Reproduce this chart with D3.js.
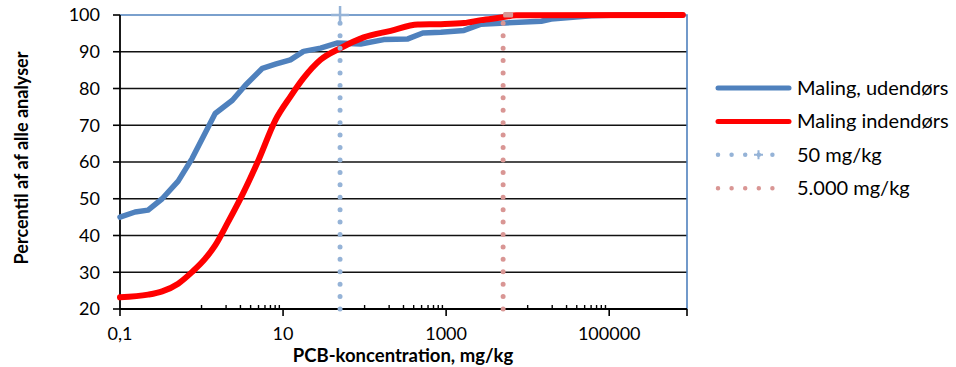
<!DOCTYPE html>
<html lang="da">
<head>
  <meta charset="UTF-8">
  <title>PCB</title>
  <script src="https://d3js.org/d3.v7.min.js" charset="utf-8"></script>
  <style>
    body { margin: 0; background: #fff; }
    text { font-family: Lato, "Open Sans", sans-serif; fill: #000; }
  </style>
</head>
<body>
</body>
<script>
  // Maling, udendørs
  var udeX = [0.1, 0.153, 0.221, 0.329, 0.517, 0.768, 1.47, 2.39, 3.45, 5.58, 8.06, 12.3, 17.8, 28.8, 46.7, 89.5, 172, 339, 518, 863, 1655, 2680, 14660, 19450, 60400, 141000, 800000]
  var udeY = [45, 46.4, 46.9, 50, 54.8, 61, 73.2, 76.8, 80.9, 85.5, 86.6, 87.8, 90.1, 91, 92.4, 92.1, 93.3, 93.5, 95.1, 95.3, 95.8, 97.5, 98.3, 98.9, 99.8, 100, 100]
  // Maling indendørs
  var indeX = [0.1, 0.221, 0.329, 0.517, 0.768, 1.11, 1.47, 2.12, 3.15, 4.99, 8.06, 12.3, 17.8, 28.8, 50.8, 97.5, 209, 450, 863, 1655, 2680, 4720, 7220, 800000]
  var indeY = [23.2, 23.9, 24.8, 26.9, 30.1, 33.7, 37.3, 43.7, 51.0, 60.5, 71.4, 77.8, 82.8, 87.8, 91.0, 93.9, 95.7, 97.4, 97.5, 97.8, 98.6, 99.3, 99.9, 100]
  // grænseværdier
  var limits = [50, 5000]
  var seriesNames = ['Maling, udendørs', 'Maling indendørs', '50 mg/kg', '5.000 mg/kg']
  var xMajor = [0.1, 10, 1000, 100000]
  var xLabels = ['0,1', '10', '1000', '100000']
  var yTicks = [20, 30, 40, 50, 60, 70, 80, 90, 100]

  var blue = '#4f81bd', red = '#ff0000', lightBlue = '#95b3d7', pink = '#d99694'

  var x = d3.scaleLog().domain([0.1, 900000]).range([120, 687])
  var y = d3.scaleLinear().domain([20, 100]).range([309, 15])

  // minor ticks: 1..9 times 10x each major tick
  var xMinor = []
  xMajor.forEach(function(m) {
    for (let j = 1; j < 10; j++) {
      let v = m * 10 * j
      if (v < x.domain()[1]) xMinor.push(v)
    }
  })

  var svg = d3.select('body').append('svg').attr('width', 956).attr('height', 367)

  // gridlines
  svg.append('g').selectAll('line')
    .data(yTicks.filter(function(d) { return d > 20 && d < 100 }))
    .enter().append('line')
    .attr('x1', x.range()[0]).attr('x2', x.range()[1])
    .attr('y1', function(d) { return y(d) }).attr('y2', function(d) { return y(d) })
    .attr('stroke', '#111').attr('stroke-width', 1.6)

  // plot border top/right
  svg.append('path')
    .attr('d', 'M' + x.range()[0] + ',' + y(100) + 'H' + x.range()[1] + 'V' + y(20))
    .attr('fill', 'none').attr('stroke', blue).attr('stroke-width', 1.6)

  // y axis
  var yAxis = svg.append('g')
  yAxis.append('line').attr('x1', 120).attr('x2', 120).attr('y1', y(100)).attr('y2', y(20))
    .attr('stroke', '#000').attr('stroke-width', 1.8)
  yAxis.selectAll('.tick').data(yTicks).enter().append('line')
    .attr('x1', 113).attr('x2', 120)
    .attr('y1', function(d) { return y(d) }).attr('y2', function(d) { return y(d) })
    .attr('stroke', '#000').attr('stroke-width', 1.6)
  yAxis.selectAll('text').data(yTicks).enter().append('text')
    .attr('x', 100).attr('y', function(d) { return y(d) })
    .attr('dy', '0.35em').attr('text-anchor', 'end')
    .style('font-size', '18px')
    .text(function(d) { return d })

  // x axis
  var xAxis = svg.append('g')
  xAxis.append('line').attr('x1', 120).attr('x2', 687).attr('y1', y(20)).attr('y2', y(20))
    .attr('stroke', '#000').attr('stroke-width', 1.8)
  xAxis.selectAll('.major').data(xMajor.concat([x.domain()[1]])).enter().append('line')
    .attr('x1', function(d) { return x(d) }).attr('x2', function(d) { return x(d) })
    .attr('y1', y(20)).attr('y2', y(20) + 7)
    .attr('stroke', '#000').attr('stroke-width', 1.6)
  xAxis.selectAll('.minor').data(xMinor).enter().append('line')
    .attr('x1', function(d) { return x(d) }).attr('x2', function(d) { return x(d) })
    .attr('y1', y(20) - 4).attr('y2', y(20))
    .attr('stroke', '#000').attr('stroke-width', 1.4)
  xAxis.selectAll('text').data(xMajor).enter().append('text')
    .attr('x', function(d) { return x(d) }).attr('y', 340)
    .attr('text-anchor', 'middle')
    .style('font-size', '18px')
    .text(function(d, i) { return xLabels[i] })

  // axis titles
  svg.append('text')
    .attr('x', 403).attr('y', 362).attr('text-anchor', 'middle')
    .style('font-size', '18.5px').style('font-weight', 'bold')
    .text('PCB-koncentration, mg/kg')
  svg.append('text')
    .attr('transform', 'translate(28,158) rotate(-90)').attr('text-anchor', 'middle')
    .style('font-size', '18px').style('font-weight', 'bold')
    .text('Percentil af af alle analyser')

  // series
  var ude = udeX.map(function(d, i) { return [d, udeY[i]] })
  var inde = indeX.map(function(d, i) { return [d, indeY[i]] })
  var lineGen = d3.line().x(function(d) { return x(d[0]) }).y(function(d) { return y(d[1]) })

  svg.append('path').attr('d', lineGen(ude))
    .attr('fill', 'none').attr('stroke', blue).attr('stroke-width', 5.5)
    .attr('stroke-linejoin', 'round').attr('stroke-linecap', 'round')
  svg.append('path').attr('d', lineGen.curve(d3.curveMonotoneX)(inde))
    .attr('fill', 'none').attr('stroke', red).attr('stroke-width', 6)
    .attr('stroke-linejoin', 'round').attr('stroke-linecap', 'round')

  // limit lines, dotted
  var limitColors = [lightBlue, pink]
  limits.forEach(function(v, i) {
    svg.append('line')
      .attr('x1', x(v)).attr('x2', x(v)).attr('y1', y(20)).attr('y2', y(100))
      .attr('stroke', limitColors[i]).attr('stroke-width', 5)
      .attr('stroke-linecap', 'round').attr('stroke-dasharray', '0 12.42')
  })
  // markers at top
  svg.append('path')
    .attr('d', 'M' + (x(50) - 9) + ',' + y(100) + 'h18M' + x(50) + ',' + (y(100) - 9) + 'v18')
    .attr('stroke', lightBlue).attr('stroke-width', 2.5).attr('fill', 'none')
  svg.append('rect')
    .attr('x', x(5000)).attr('y', y(100) - 3).attr('width', 10).attr('height', 5.5)
    .attr('rx', 1.5).attr('fill', pink)

  // legend
  var legend = svg.append('g')
  var legY = function(i) { return 88 + i * 33.4 }
  legend.append('line').attr('x1', 718).attr('x2', 789).attr('y1', legY(0)).attr('y2', legY(0))
    .attr('stroke', blue).attr('stroke-width', 5).attr('stroke-linecap', 'round')
  legend.append('line').attr('x1', 718).attr('x2', 789).attr('y1', legY(1)).attr('y2', legY(1))
    .attr('stroke', red).attr('stroke-width', 5).attr('stroke-linecap', 'round')
  legend.append('line').attr('x1', 718).attr('x2', 786).attr('y1', legY(2)).attr('y2', legY(2))
    .attr('stroke', lightBlue).attr('stroke-width', 4.5).attr('stroke-linecap', 'round')
    .attr('stroke-dasharray', '0 13.6')
  legend.append('path')
    .attr('d', 'M' + 754 + ',' + legY(2) + 'h9M' + 758.5 + ',' + (legY(2) - 4.5) + 'v9')
    .attr('stroke', lightBlue).attr('stroke-width', 2).attr('fill', 'none')
  legend.append('line').attr('x1', 718).attr('x2', 786).attr('y1', legY(3)).attr('y2', legY(3))
    .attr('stroke', pink).attr('stroke-width', 4.5).attr('stroke-linecap', 'round')
    .attr('stroke-dasharray', '0 13.6')
  legend.selectAll('text').data(seriesNames).enter().append('text')
    .attr('x', 797).attr('y', function(d, i) { return legY(i) })
    .attr('dy', '0.35em')
    .style('font-size', '20px')
    .text(function(d) { return d })
</script>
</html>
